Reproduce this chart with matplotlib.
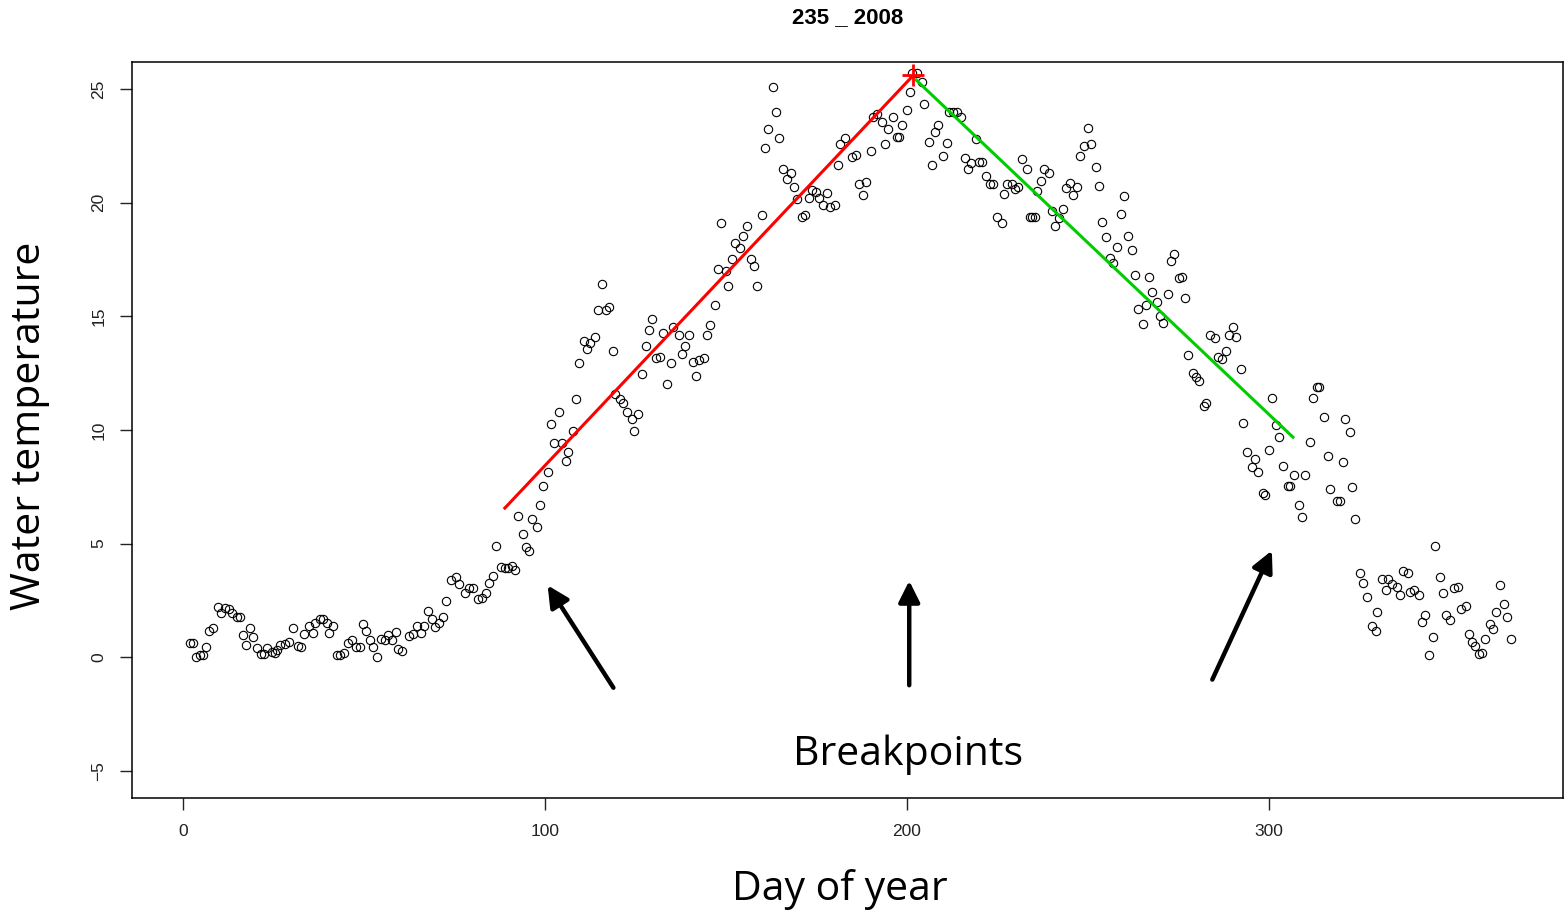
import matplotlib
matplotlib.use("Agg")
import matplotlib.pyplot as plt

# daily water temperature (day of year, deg C)
winter_days = [1.9, 2.7, 3.5, 4.7, 5.6, 6.4, 7.3, 8.4, 9.6, 10.4, 11.6, 12.8, 13.4, 14.8,
               15.7, 16.5, 17.4, 18.5, 19.4, 20.5, 21.5, 22.4, 23.3, 24.5, 25.4, 25.9,
               26.8, 28.2, 29.4, 30.5, 31.8, 32.6, 33.5, 34.9, 35.8, 36.5, 37.7, 38.8,
               39.7, 40.4, 41.5, 42.5, 43.4, 44.5, 45.7, 46.6, 47.8, 48.9, 49.6, 50.5,
               51.7, 52.6, 53.5, 54.6, 55.8, 56.7, 57.8, 58.8, 59.5, 60.6, 62.5, 63.5,
               64.7, 65.7, 66.6, 67.8, 68.7, 69.6, 70.8, 71.7, 72.6, 73.9, 75.4, 76.3,
               77.9, 79.1, 80.2, 81.6, 82.5, 83.7, 84.6, 85.5]
winter_temp = [0.60, 0.60, 0.01, 0.09, 0.09, 0.45, 1.14, 1.26, 2.21, 1.92, 2.14, 2.10, 1.92,
               1.77, 1.77, 0.97, 0.53, 1.29, 0.87, 0.38, 0.12, 0.12, 0.38, 0.23, 0.16, 0.30,
               0.53, 0.56, 0.67, 1.29, 0.48, 0.45, 1.01, 1.36, 1.07, 1.51, 1.66, 1.66, 1.48,
               1.07, 1.36, 0.09, 0.09, 0.19, 0.63, 0.75, 0.43, 0.43, 1.44, 1.14, 0.75, 0.43,
               0.01, 0.79, 0.75, 0.97, 0.75, 1.11, 0.34, 0.28, 0.92, 1.01, 1.36, 1.04, 1.36,
               2.04, 1.66, 1.33, 1.48, 1.77, 2.48, 3.39, 3.53, 3.21, 2.80, 3.02, 3.02, 2.54,
               2.58, 2.83, 3.27, 3.57]

spring_days = [86.5, 87.8, 88.9, 89.9, 90.8, 91.7, 92.6, 93.8, 94.8, 95.7, 96.5, 97.9, 98.6,
               99.5, 100.9, 101.7, 102.5, 103.9, 104.6, 105.7, 106.4, 107.6, 108.6, 109.5,
               110.8, 111.7, 112.4, 113.8, 114.7, 115.7, 116.9, 117.8, 118.7, 119.3, 120.7,
               121.6, 122.6, 123.9, 124.7, 125.6, 126.9, 127.8, 128.7, 129.5, 130.7, 131.8,
               132.5, 133.8, 134.7, 135.4, 137.0, 137.8, 138.7, 139.9, 140.8, 141.7, 142.5,
               143.9, 144.7, 145.6, 147.0, 147.7, 148.6, 150.0, 150.6]
spring_temp = [4.90, 3.95, 3.90, 3.90, 4.00, 3.83, 6.21, 5.44, 4.83, 4.68, 6.07, 5.74, 6.69,
               7.53, 8.16, 10.24, 9.41, 10.77, 9.41, 8.64, 9.04, 9.96, 11.34, 12.93, 13.91,
               13.54, 13.83, 14.10, 15.27, 16.40, 15.27, 15.42, 13.48, 11.58, 11.34, 11.17,
               10.77, 10.50, 9.95, 10.70, 12.44, 13.69, 14.39, 14.86, 13.15, 13.19, 14.25,
               12.02, 12.93, 14.54, 14.17, 13.34, 13.69, 14.17, 13.00, 12.37, 13.07, 13.15,
               14.17, 14.61, 15.49, 17.10, 19.09, 17.00, 16.33]

summer_days = [151.7, 152.5, 153.9, 154.8, 155.7, 156.8, 157.7, 158.6, 159.9, 160.8, 161.7,
               162.9, 163.8, 164.7, 165.7, 166.9, 167.9, 168.8, 169.7, 170.9, 171.8, 173.0,
               173.7, 174.9, 175.8, 176.9, 177.8, 178.7, 180.1, 180.9, 181.5, 182.9, 184.7,
               185.9, 186.8, 187.8, 188.6, 190.0, 190.7, 191.6, 193.0, 193.9, 194.8, 196.0,
               197.1, 197.8, 198.5, 199.9, 200.8, 201.3, 202.7, 204.1, 204.7, 206.1, 206.9,
               207.7, 208.6, 209.9, 211.0, 211.6, 212.7, 213.8, 214.8, 216.0, 216.9, 217.6,
               219.1, 219.9, 220.6, 221.8, 222.9, 223.8, 224.8, 226.2, 226.8, 227.6, 228.9,
               229.8, 230.7, 231.7, 233.1, 234.0, 234.5, 235.4, 235.9, 236.9, 237.8, 239.2,
               240.0, 240.9, 242.0, 243.0, 243.9, 245.0, 245.9, 247.0, 247.8, 248.9, 249.9,
               250.8, 252.2, 253.0, 253.9, 254.9, 256.1, 256.9, 257.9, 259.1, 259.9]
summer_temp = [17.50, 18.21, 17.99, 18.54, 18.97, 17.50, 17.22, 16.33, 19.45, 22.42, 23.24,
               25.07, 24.00, 22.83, 21.47, 21.03, 21.32, 20.70, 20.14, 19.38, 19.45, 20.19,
               20.55, 20.48, 20.19, 19.89, 20.41, 19.79, 19.89, 21.66, 22.58, 22.83, 22.02,
               22.10, 20.82, 20.33, 20.89, 22.28, 23.75, 23.90, 23.53, 22.58, 23.24, 23.75,
               22.90, 22.90, 23.42, 24.08, 24.87, 25.69, 25.69, 25.32, 24.34, 22.67, 21.66,
               23.10, 23.42, 22.06, 22.64, 24.00, 24.00, 24.00, 23.75, 21.96, 21.48, 21.74,
               22.80, 21.80, 21.80, 21.17, 20.80, 20.80, 19.38, 19.10, 20.40, 20.80, 20.80,
               20.60, 20.70, 21.90, 21.50, 19.38, 19.38, 19.38, 20.50, 20.96, 21.48, 21.30,
               19.64, 18.98, 19.32, 19.72, 20.64, 20.86, 20.33, 20.70, 22.06, 22.50, 23.28,
               22.58, 21.58, 20.74, 19.16, 18.50, 17.56, 17.34, 18.06, 19.50, 20.30]

autumn_days = [261.0, 262.2, 262.9, 263.7, 265.1, 266.0, 266.9, 267.8, 269.1, 269.9, 270.8,
               272.2, 272.8, 273.8, 275.1, 275.9, 276.9, 277.7, 278.9, 279.8, 280.7, 282.0,
               282.6, 283.7, 285.1, 286.0, 286.9, 288.1, 289.0, 290.0, 290.9, 292.2, 292.9,
               293.8, 295.3, 296.0, 297.0, 298.4, 299.0, 300.0, 300.8, 302.0, 302.8, 303.8,
               305.3, 305.9, 306.9, 308.3, 309.0, 310.0, 311.3, 312.1, 313.3, 313.9, 315.2,
               316.2, 316.9, 318.8, 319.5, 320.4, 321.0, 322.4, 322.9, 323.8]
autumn_temp = [18.54, 17.90, 16.80, 15.30, 14.66, 15.49, 16.74, 16.05, 15.64, 15.00, 14.71,
               15.98, 17.44, 17.74, 16.67, 16.74, 15.79, 13.29, 12.49, 12.34, 12.16, 11.05,
               11.19, 14.17, 14.03, 13.22, 13.12, 13.48, 14.17, 14.54, 14.10, 12.70, 10.29,
               9.04, 8.38, 8.70, 8.13, 7.23, 7.13, 9.11, 11.39, 10.21, 9.67, 8.42, 7.53, 7.53,
               8.01, 6.69, 6.15, 8.01, 9.48, 11.39, 11.87, 11.87, 10.55, 8.85, 7.38, 6.88,
               6.88, 8.60, 10.50, 9.90, 7.50, 6.07]

late_days = [325.1, 326.0, 327.0, 328.3, 329.6, 329.9, 331.1, 332.2, 332.9, 334.0, 335.4,
             336.1, 337.0, 338.3, 338.9, 340.0, 341.3, 342.3, 343.0, 344.3, 345.3, 345.9,
             347.2, 348.1, 349.0, 350.0, 351.1, 352.3, 352.9, 354.3, 355.2, 356.0, 356.9,
             358.1, 358.8, 359.7, 360.9, 361.8, 362.7, 363.9, 364.8, 365.6, 366.8]
late_temp = [3.71, 3.24, 2.65, 1.36, 1.14, 1.98, 3.43, 2.95, 3.43, 3.21, 3.10, 2.73, 3.80,
             3.71, 2.88, 2.95, 2.73, 1.55, 1.85, 0.09, 0.87, 4.89, 3.51, 2.80, 1.85, 1.63,
             3.02, 3.10, 2.10, 2.24, 1.01, 0.65, 0.50, 0.12, 0.19, 0.79, 1.44, 1.22, 1.99,
             3.16, 2.33, 1.77, 0.79]

# fitted segments (segmented regression) and the breakpoints they join
warming_x = [88.9, 201.7]
warming_y = [6.56, 25.6]
cooling_x = [202.5, 306.6]
cooling_y = [25.4, 9.68]
peak = (201.7, 25.6)

# arrows pointing at breakpoints: (head, tail)
arrows = [((100.3, 3.26), (119.3, -1.45)),
          ((200.6, 3.48), (200.6, -1.36)),
          ((301.1, 4.80), (284.0, -1.10))]

days = winter_days + spring_days + summer_days + autumn_days + late_days
temp = winter_temp + spring_temp + summer_temp + autumn_temp + late_temp

fig = plt.figure(figsize=(15.64, 9.15), dpi=100)
ax = fig.add_axes([132 / 1564, 1 - 798 / 915, (1563 - 132) / 1564, (798 - 62) / 915])

ax.plot(days, temp, 'o', mfc='none', mec='black', ms=6, mew=0.8)
ax.plot(warming_x, warming_y, color='#ff0000', lw=2.2)
ax.plot(cooling_x, cooling_y, color='#00cd00', lw=2.2)
ax.plot(*peak, marker='+', color='#ff0000', ms=16, mew=2)

for head, tail in arrows:
    ax.annotate('', xy=head, xytext=tail,
                arrowprops=dict(arrowstyle='-|>', lw=3.2, color='black', mutation_scale=32))

ax.set_xlim(-14.1, 381.2)
ax.set_ylim(-6.2, 26.19)
ax.set_xticks([0, 100, 200, 300])
ax.set_yticks([-5, 0, 5, 10, 15, 20, 25])
ax.tick_params(length=8.6, width=1, pad=10, labelsize=12.5, colors='#222222')
for lab in ax.get_yticklabels():
    lab.set_rotation(90)
    lab.set_va('center')
for sp in ax.spines.values():
    sp.set_linewidth(1.1)

for lab in ax.get_xticklabels() + ax.get_yticklabels():
    lab.set_fontfamily('Liberation Sans')

fig.text(848 / 1564, 1 - 18 / 915, '235 _ 2008', ha='center', va='center',
         fontsize=16, fontweight='bold', fontstretch='condensed',
         family=['Liberation Sans Narrow', 'Liberation Sans'])

big = dict(family=['Open Sans', 'DejaVu Sans'], fontsize=29.5)
fig.text(908 / 1564, 1 - 755 / 915, 'Breakpoints', ha='center', va='center', **big)
fig.text(840 / 1564, 1 - 890 / 915, 'Day of year', ha='center', va='center', **big)
fig.text(30 / 1564, 1 - 426 / 915, 'Water temperature', ha='center', va='center',
         rotation=90, **big)

fig.savefig('out.png', dpi=100)
